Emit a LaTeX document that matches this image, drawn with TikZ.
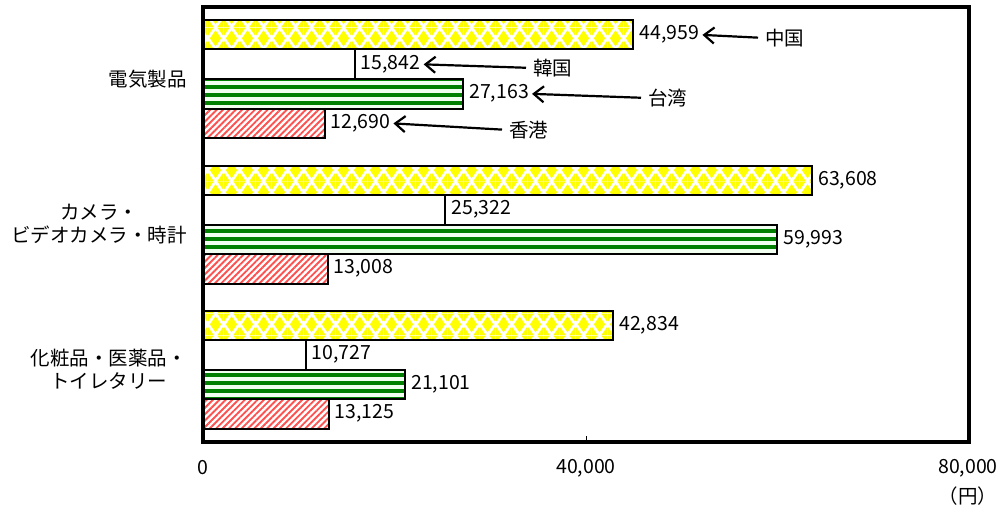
\documentclass[tikz,border=0pt]{standalone}
\usepackage{fontspec}
\setmainfont{Noto Sans CJK JP}
\usetikzlibrary{patterns.meta,arrows.meta}

\pgfdeclarepattern{
  name=ydiamonds, type=uncolored,
  bottom left={\pgfpoint{0pt}{0pt}}, top right={\pgfpoint{16pt}{22pt}},
  tile size={\pgfpoint{16pt}{22pt}},
  code={
    \pgfpathmoveto{\pgfpoint{8pt}{2.8pt}}\pgflineto{\pgfpoint{14pt}{11pt}}\pgflineto{\pgfpoint{8pt}{19.2pt}}\pgflineto{\pgfpoint{2pt}{11pt}}\pgfpathclose
    \pgfpathmoveto{\pgfpoint{0pt}{0pt}}\pgflineto{\pgfpoint{6pt}{0pt}}\pgflineto{\pgfpoint{0pt}{8.2pt}}\pgfpathclose
    \pgfpathmoveto{\pgfpoint{16pt}{0pt}}\pgflineto{\pgfpoint{16pt}{8.2pt}}\pgflineto{\pgfpoint{10pt}{0pt}}\pgfpathclose
    \pgfpathmoveto{\pgfpoint{0pt}{22pt}}\pgflineto{\pgfpoint{0pt}{13.8pt}}\pgflineto{\pgfpoint{6pt}{22pt}}\pgfpathclose
    \pgfpathmoveto{\pgfpoint{16pt}{22pt}}\pgflineto{\pgfpoint{10pt}{22pt}}\pgflineto{\pgfpoint{16pt}{13.8pt}}\pgfpathclose
    \pgfusepath{fill}
  }}

\definecolor{stripegreen}{RGB}{0,128,0}
\definecolor{hatchred}{RGB}{255,80,80}

\tikzset{
  cnbar/.style={draw=black, line width=2pt, pattern=ydiamonds, pattern color=yellow},
  krbar/.style={draw=black, line width=2pt, fill=white},
  twbar/.style={draw=black, line width=2pt, preaction={fill=green!6}, pattern={Lines[angle=0,distance=8pt,line width=3.5pt]}, pattern color=stripegreen},
  hkbar/.style={draw=black, line width=2pt, pattern={Lines[angle=45,distance=4.5pt,line width=1.9pt]}, pattern color=hatchred},
  val/.style={anchor=west, inner sep=0pt, xshift=6pt},
  note/.style={anchor=west, inner sep=0pt},
  callout/.style={line width=2.2pt, -{Straight Barb[length=10pt,width=16pt,line width=2.2pt]}, shorten <=7pt, shorten >=3pt},
  catlabel/.style={anchor=east, align=center, inner sep=0pt}
}

\begin{document}
\begin{tikzpicture}[x=1pt, y=-1pt, font=\fontsize{19.5}{23}\selectfont]
		%%%%% START %%%%%
		\useasboundingbox (0, 0) rectangle (1003, 511);
		
		% 電気製品
		\draw[cnbar] (203, 20) rectangle ({203+44.959*9.575}, 49.5);
		\node[val] (v11) at ({203+44.959*9.575}, 34.75) {44,959};
		\draw[krbar] (203, 49.5) rectangle ({203+15.842*9.575}, 79);
		\node[val] (v12) at ({203+15.842*9.575}, 64.25) {15,842};
		\draw[twbar] (203, 79) rectangle ({203+27.163*9.575}, 108.5);
		\node[val] (v13) at ({203+27.163*9.575}, 93.75) {27,163};
		\draw[hkbar] (203, 108.5) rectangle ({203+12.690*9.575}, 138);
		\node[val] (v14) at ({203+12.690*9.575}, 123.25) {12,690};
		
		% カメラ・ビデオカメラ・時計
		\draw[cnbar] (203, 165.5) rectangle ({203+63.608*9.575}, 195);
		\node[val] (v21) at ({203+63.608*9.575}, 180.25) {63,608};
		\draw[krbar] (203, 195) rectangle ({203+25.322*9.575}, 224.5);
		\node[val] (v22) at ({203+25.322*9.575}, 209.75) {25,322};
		\draw[twbar] (203, 224.5) rectangle ({203+59.993*9.575}, 254);
		\node[val] (v23) at ({203+59.993*9.575}, 239.25) {59,993};
		\draw[hkbar] (203, 254) rectangle ({203+13.008*9.575}, 283.5);
		\node[val] (v24) at ({203+13.008*9.575}, 268.75) {13,008};
		
		% 化粧品・医薬品・トイレタリー
		\draw[cnbar] (203, 310.5) rectangle ({203+42.834*9.575}, 340);
		\node[val] (v31) at ({203+42.834*9.575}, 325.25) {42,834};
		\draw[krbar] (203, 340) rectangle ({203+10.727*9.575}, 369.5);
		\node[val] (v32) at ({203+10.727*9.575}, 354.75) {10,727};
		\draw[twbar] (203, 369.5) rectangle ({203+21.101*9.575}, 399);
		\node[val] (v33) at ({203+21.101*9.575}, 384.25) {21,101};
		\draw[hkbar] (203, 399) rectangle ({203+13.125*9.575}, 428.5);
		\node[val] (v34) at ({203+13.125*9.575}, 413.75) {13,125};
		
		% frame and axis
		\draw[line width=3.5pt] (203, 7) rectangle (969, 442);
		\draw[line width=0.6pt] (586, 442) -- (586, 436);
		\node (t0) at (203, 468) {0};
		\node (t1) at (586, 468) {40,000};
		\node (t2) at (968, 468) {80,000};
		\node (unit) at (968, 496) {（円）};
		
		% categories
		\node[catlabel] (c1) at (187, 79.5) {電気製品};
		\node[catlabel] (c2) at (187, 224.5) {カメラ・\\ビデオカメラ・時計};
		\node[catlabel] (c3) at (187, 369.5) {化粧品・医薬品・\\トイレタリー};
		
		% country callouts
		\node[note] (cn) at (765, 38) {中国};
		\node[note] (kr) at (533, 68) {韓国};
		\node[note] (tw) at (648, 98) {台湾};
		\node[note] (hk) at (509, 130) {香港};
		\draw[callout] (cn.west) -- (v11.east);
		\draw[callout] (kr.west) -- (v12.east);
		\draw[callout] (tw.west) -- (v13.east);
		\draw[callout] (hk.west) -- (v14.east);
		%%%%% END %%%%%
\end{tikzpicture}
\end{document}
